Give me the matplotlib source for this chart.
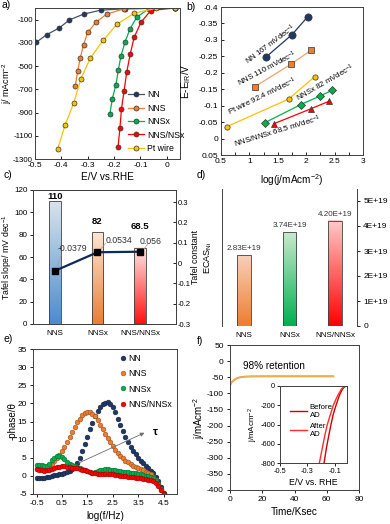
import numpy as np
import matplotlib
matplotlib.use('Agg')
import matplotlib.pyplot as plt
import matplotlib.colors as mcolors
from matplotlib.ticker import FuncFormatter, MultipleLocator, FixedLocator

plt.rcParams['font.family'] = ['Liberation Sans', 'DejaVu Sans']
plt.rcParams['mathtext.default'] = 'regular'
plt.rcParams['axes.unicode_minus'] = False
plt.rcParams['font.size'] = 6
plt.rcParams['axes.linewidth'] = 0.7
plt.rcParams['axes.edgecolor'] = '#404040'

NAVY = '#1F3864'; ORANGE = '#ED7D31'; GREEN = '#00B050'; RED = '#FF0000'; YELLOW = '#FFC000'
TS = 6      # tick label size
LS = 7.2    # axis label size

# ---------------- data ----------------
# a) polarization curves
a_NN_E = [-0.496, -0.456, -0.408, -0.370, -0.316, -0.250, -0.158, 0.03]
a_NN_j = [-297, -230, -172, -103, -53, -18, -7, 0]
a_NNS_E = [-0.347, -0.338, -0.328, -0.316, -0.300, -0.269, -0.228, -0.163, 0.03]
a_NNS_j = [-668, -543, -427, -317, -210, -123, -53, -7, 0]
a_NNSx_E = [-0.216, -0.207, -0.193, -0.184, -0.174, -0.158, -0.140, -0.114, -0.067, 0.03]
a_NNSx_j = [-914, -783, -662, -535, -413, -291, -181, -79, -5, 0]
a_NNSNSx_E = [-0.185, -0.178, -0.172, -0.162, -0.152, -0.139, -0.124, -0.098, -0.061, 0.03]
a_NNSNSx_j = [-1196, -1036, -870, -711, -552, -398, -253, -123, -22, 0]
a_Pt_E = [-0.414, -0.386, -0.353, -0.326, -0.290, -0.241, -0.189, -0.124, -0.042, 0.03]
a_Pt_j = [-1215, -1007, -818, -610, -430, -277, -140, -45, -3, 0]

# b) Tafel plots
b_NN_x = [1.30, 1.75, 2.03]; b_NN_y = [-0.249, -0.316, -0.371]
b_NNS_x = [1.09, 1.73, 2.09]; b_NNS_y = [-0.157, -0.226, -0.269]
b_Pt_x = [0.60, 1.69, 2.15]; b_Pt_y = [-0.036, -0.120, -0.188]
b_NNSx_x = [1.27, 1.90, 2.25, 2.46]; b_NNSx_y = [-0.048, -0.103, -0.130, -0.147]
b_NNSNNSx_x = [1.43, 2.09, 2.41]; b_NNSNNSx_y = [-0.045, -0.091, -0.114]

# c) Tafel slope / constant
c_cats = ['NNS', 'NNSx', 'NNS/NNSx']
c_slope = [110, 82, 68.5]
c_const = [-0.0379, 0.0534, 0.056]
c_slope_lbl = ['110', '82', '68.5']
c_const_lbl = ['-0.0379', '0.0534', '0.056']

# d) ECAS
d_cats = ['NNS', 'NNSx', 'NNS/NNSx']
d_ecas = [2.83e19, 3.74e19, 4.20e19]
d_lbl = ['2.83E+19', '3.74E+19', '4.20E+19']

# e) Bode phase
e_logf = [-0.5, -0.4, -0.3, -0.2, -0.1, 0.0, 0.1, 0.2, 0.3, 0.4, 0.5, 0.6, 0.7, 0.8, 0.9,
          1.0, 1.1, 1.2, 1.3, 1.4, 1.5, 1.6, 1.7, 1.8, 1.9, 2.0, 2.1, 2.2, 2.3, 2.4, 2.5,
          2.6, 2.7, 2.8, 2.9, 3.0, 3.1, 3.2, 3.3, 3.4, 3.5, 3.6, 3.7, 3.8, 3.9, 4.0, 4.1,
          4.2, 4.3, 4.4, 4.5]
e_NN = [-0.5, -0.5, -0.5, -0.5, -0.4, -0.3, 0.0, 0.2, 0.3, 0.4, 0.6, 0.8, 1.0, 1.3, 1.8,
        2.5, 3.5, 5.0, 6.8, 8.8, 10.8, 12.8, 14.7, 16.5, 18.0, 19.1, 19.8, 20.2, 20.3, 19.8, 18.9,
        17.5, 15.8, 14.0, 12.3, 10.7, 9.3, 8.0, 6.9, 5.9, 5.0, 4.2, 3.5, 2.8, 2.1, 1.4, 0.7,
        -0.2, -1.4, -3.0, -4.8]
e_NNS = [2.0, 2.0, 2.0, 2.1, 2.3, 2.7, 3.3, 4.0, 4.8, 5.8, 6.8, 8.0, 9.4, 10.8, 12.2,
         13.5, 14.8, 15.8, 16.7, 17.3, 17.6, 17.5, 17.1, 16.4, 15.3, 14.0, 12.8, 11.6, 10.4, 9.3, 8.2,
         7.2, 6.3, 5.5, 4.8, 4.2, 3.7, 3.2, 2.8, 2.4, 2.1, 1.8, 1.5, 1.2, 0.8, 0.4, -0.2,
         -1.0, -2.2, -3.8, -5.0]
e_NNSx = [3.0, 3.0, 2.9, 2.6, 2.8, 3.3, 4.3, 5.0, 5.4, 5.5, 5.2, 4.6, 3.9, 3.3, 2.9,
          2.6, 2.4, 2.1, 1.9, 1.6, 1.3, 1.0, 0.9, 1.0, 1.3, 1.6, 1.7, 1.8, 1.8, 1.7, 1.6,
          1.5, 1.4, 1.3, 1.2, 1.1, 1.0, 0.9, 0.8, 0.7, 0.5, 0.4, 0.3, 0.1, -0.1, -0.3, -0.7,
          -1.3, -2.2, -3.5, -5.0]
e_NNSNNSx = [1.8, 1.7, 1.5, 1.4, 1.5, 1.7, 2.0, 2.2, 2.4, 2.5, 2.6, 2.6, 2.5, 2.4, 2.3,
             2.2, 2.1, 1.9, 1.7, 1.5, 1.3, 1.1, 0.9, 0.7, 0.6, 0.6, 0.6, 0.6, 0.5, 0.5, 0.4,
             0.3, 0.2, 0.1, 0.0, -0.1, -0.2, -0.3, -0.4, -0.5, -0.6, -0.7, -0.8, -0.9, -1.0, -1.2, -1.5,
             -2.0, -2.8, -4.0, -5.0]

# f) stability
f_t = [0, 0.5, 1, 2, 3, 4, 5, 6, 8, 10, 14, 20, 30, 40, 50, 60, 64]
f_j = [-75, -70, -66, -61, -57, -54, -52, -50.5, -49, -48, -47.5, -47.3, -47.2, -47.2, -47.2, -47.2, -47.2]
fi_after_E = [-0.212, -0.19, -0.17, -0.154, -0.13, -0.11, -0.09, -0.078, -0.06, -0.05, -0.035, -0.02, -0.01]
fi_after_j = [-800, -640, -500, -400, -290, -200, -135, -100, -55, -30, -12, -3, 0]
fi_before_E = [-0.178, -0.16, -0.14, -0.127, -0.11, -0.09, -0.075, -0.066, -0.052, -0.042, -0.03, -0.02, -0.01]
fi_before_j = [-800, -640, -490, -400, -290, -200, -135, -100, -55, -30, -12, -3, 0]

# ---------------- figure ----------------
W, H = 390, 524
fig = plt.figure(figsize=(W / 100, H / 100), dpi=100)


def ax_at(l, t, r, b):
    return fig.add_axes([l / W, 1 - b / H, (r - l) / W, (b - t) / H])


def ylab_at(ax, px, l, r):
    # place y label anchor at figure pixel x = px
    ax.yaxis.set_label_coords((px - l) / (r - l), 0.5)


fmt_g = FuncFormatter(lambda v, p: ('%g' % round(v, 6)))


def darker(c, f=0.6):
    return tuple(np.array(mcolors.to_rgb(c)) * f)


# ---- a)
ax = ax_at(35, 8, 180, 159)
series = [('NN', a_NN_E, a_NN_j, NAVY, '#44546A'),
          ('NNS', a_NNS_E, a_NNS_j, ORANGE, ORANGE),
          ('NNSx', a_NNSx_E, a_NNSx_j, GREEN, GREEN),
          ('NNS/NSx', a_NNSNSx_E, a_NNSNSx_j, RED, RED),
          ('Pt wire', a_Pt_E, a_Pt_j, YELLOW, YELLOW)]
for name, xs, ys, fc, lc in series:
    ax.plot(xs, ys, '-', color=lc, lw=0.9, marker='o', ms=3.6, mfc=fc, mec='#333333', mew=0.5, label=name)
ax.set_xlim(-0.5, 0.05)
ax.set_ylim(-1300, 0)
ax.xaxis.set_major_locator(FixedLocator([-0.5, -0.4, -0.3, -0.2, -0.1, 0]))
ax.yaxis.set_major_locator(FixedLocator(list(range(-1300, 0, 200))))
ax.xaxis.set_major_formatter(fmt_g)
ax.tick_params(direction='in', length=2.5, width=0.6, labelsize=TS, pad=2)
ax.tick_params(axis='y', labelsize=5.7, pad=1.5)
ax.set_xlabel('E/V vs.RHE', fontsize=LS, labelpad=2)
ax.set_ylabel('j/ mAcm$^{-2}$', fontsize=6.5)
ylab_at(ax, 14.5, 35, 180)
ax.legend(loc='lower left', bbox_to_anchor=(0.6, 0.0), frameon=False, fontsize=6.3,
          handlelength=1.8, labelspacing=0.5, handletextpad=0.4, borderaxespad=0.3)

# ---- b)
ax = ax_at(221, 7, 363, 155)
ax.plot(b_NN_x, b_NN_y, '-', color=NAVY, lw=0.9, marker='o', ms=5.2, mfc=NAVY, mec='#333333', mew=0.5)
ax.plot(b_NNS_x, b_NNS_y, '-', color='#F4A070', lw=0.9, marker='s', ms=5.0, mfc=ORANGE, mec='#333333', mew=0.5)
ax.plot(b_Pt_x, b_Pt_y, '-', color=YELLOW, lw=0.9, marker='o', ms=3.8, mfc=YELLOW, mec='#333333', mew=0.5)
ax.plot(b_NNSx_x, b_NNSx_y, '-', color=GREEN, lw=0.9, marker='D', ms=3.8, mfc=GREEN, mec='#333333', mew=0.5)
ax.plot(b_NNSNNSx_x, b_NNSNNSx_y, '-', color=RED, lw=0.9, marker='^', ms=5.0, mfc=RED, mec='#333333', mew=0.5)
ax.set_xlim(0.5, 3)
ax.set_ylim(0.05, -0.4)
ax.xaxis.set_major_locator(MultipleLocator(0.5))
ax.xaxis.set_minor_locator(MultipleLocator(0.25))
ax.yaxis.set_major_locator(MultipleLocator(0.05))
ax.xaxis.set_major_formatter(fmt_g)
ax.yaxis.set_major_formatter(fmt_g)
ax.tick_params(which='both', direction='in', length=2.5, width=0.6, labelsize=TS, pad=2)
ax.set_xlabel('log(j/mAcm$^{-2}$)', fontsize=LS, labelpad=5)
ax.set_ylabel('E-E$_{IR}$/V', fontsize=LS)
ylab_at(ax, 193, 221, 363)
ann = dict(fontsize=5.6, ha='center', va='center', rotation_mode='anchor')
ax.text(1.37, -0.287, 'NN 167 mVdec$^{-1}$', rotation=37, **ann)
ax.text(1.32, -0.214, 'NNS 110 mVdec$^{-1}$', rotation=28, **ann)
ax.text(1.22, -0.128, 'Pt wire 92.4 mVdec$^{-1}$', rotation=26, **ann)
ax.text(2.34, -0.171, 'NNSx 82 mVdec$^{-1}$', rotation=30, **ann)
ax.text(1.49, -0.023, 'NNS/NNSx 68.5 mVdec$^{-1}$', rotation=17, **ann)


def grad_bars(ax, xs, hs, w, tops, bots, edge='#404040'):
    bars = ax.bar(xs, hs, w, facecolor='none', edgecolor=edge, linewidth=0.6, zorder=3)
    for b, t, bt in zip(bars, tops, bots):
        x0, y0 = b.get_x(), b.get_y()
        ww, hh = b.get_width(), b.get_height()
        c1 = np.array(mcolors.to_rgb(t)); c2 = np.array(mcolors.to_rgb(bt))
        f = np.linspace(0, 1, 128)[:, None]
        img = (c1 * (1 - f) + c2 * f)[:, None, :]
        ax.imshow(img, extent=[x0, x0 + ww, y0, y0 + hh], aspect='auto', origin='upper',
                  zorder=2, interpolation='bilinear')
    return bars


# ---- c)
ax = ax_at(33, 190, 176, 324)
xc = np.arange(len(c_cats))
grad_bars(ax, xc, c_slope, 0.27, ['#D9E3EC', '#FCE6D4', '#FFE8E8'], ['#4A8CCF', '#ED7D31', '#FF1010'])
ax.set_xlim(-0.52, 2.85)
ax.set_ylim(0, 120)
ax.set_xticks(xc)
ax.set_xticklabels(c_cats, fontsize=5.8)
ax.yaxis.set_major_locator(MultipleLocator(20))
ax.tick_params(axis='x', length=0, pad=4)
ax.tick_params(axis='y', direction='out', length=2.5, width=0.6, labelsize=5.8, pad=1.5)
ax.set_ylabel('Tafel slope/ mV dec$^{-1}$', fontsize=6.3)
ylab_at(ax, 13.5, 33, 176)
for x, h, lb in zip(xc, [114, 92, 87], c_slope_lbl):
    ax.text(x, h, lb, ha='center', va='center', fontsize=6.8, fontweight='bold')
ax2 = ax.twinx()
ax2.set_ylim(-0.3, 0.36)
ax2.set_xlim(-0.52, 2.85)
ax2.plot(xc, c_const, '-', color='#0F2A5A', lw=1.6, marker='s', ms=5, mfc='black', mec='black', zorder=5)
ax2.yaxis.set_major_locator(FixedLocator([-0.3, -0.2, -0.1, 0, 0.1, 0.2, 0.3]))
ax2.yaxis.set_major_formatter(fmt_g)
ax2.tick_params(axis='y', direction='in', length=2.5, width=0.6, labelsize=5.5, pad=1.5)
ax2.set_ylabel('Tafel constant', fontsize=6.3)
ylab_at(ax2, 191, 33, 176)
lbl_pos = [(0.40, 0.074), (1.50, 0.113), (2.26, 0.108)]
lead = [((0.14, 0.040), (0.05, -0.025)), ((1.20, 0.098), (1.03, 0.06)), ((2.18, 0.093), (2.08, 0.065))]
for (lx, ly), ((x1, y1), (x2, y2)), lb in zip(lbl_pos, lead, c_const_lbl):
    ax2.text(lx, ly, lb, ha='center', va='center', fontsize=6.3, color='#333333')
    ax2.plot([x1, x2], [y1, y2], color='#A0A0A0', lw=0.5, zorder=4)

# ---- d)
ax = ax_at(222, 189, 357, 326)
xd = np.arange(len(d_cats))
grad_bars(ax, xd, d_ecas, 0.3, ['#F9D0B8', '#C8EACB', '#FFCACA'], ['#ED7D31', '#00B050', '#FF0000'])
ax.set_xlim(-0.48, 2.48)
ax.set_ylim(0, 5.48e19)
ax.yaxis.tick_right()
ax.yaxis.set_major_locator(MultipleLocator(1e19))
ax.yaxis.set_major_formatter(FuncFormatter(lambda v, p: '0' if abs(v) < 1 else '%dE+19' % round(v / 1e19)))
ax.set_xticks(xd)
ax.set_xticklabels(d_cats, fontsize=5.8)
ax.tick_params(axis='x', length=0, pad=4)
ax.tick_params(axis='y', direction='out', length=2.5, width=0.6, labelsize=TS, pad=2)
ax.spines['top'].set_visible(False)
ax.spines['bottom'].set_visible(False)
ax.set_ylabel('ECAS$_{Ni}$', fontsize=6.6)
ax.yaxis.set_label_position('left')
ylab_at(ax, 214, 222, 357)
for x, h, lb in zip(xd, d_ecas, d_lbl):
    ax.text(x, h + 0.12e19, lb, ha='center', va='bottom', fontsize=5.8, color='#333333')

# ---- e)
ax = ax_at(33, 349, 177, 494)
e_series = [('NN', e_NN, NAVY), ('NNS', e_NNS, ORANGE), ('NNSx', e_NNSx, GREEN), ('NNS/NNSx', e_NNSNNSx, RED)]
for name, ys, c in e_series:
    ax.plot(e_logf, ys, linestyle='none', marker='o', ms=3.4, mfc=c, mec=darker(c, 0.65), mew=0.4, label=name)
ax.set_xlim(-0.64, 5.03)
ax.set_ylim(-5, 35)
ax.xaxis.set_major_locator(FixedLocator([-0.5, 0.5, 1.5, 2.5, 3.5, 4.5]))
ax.xaxis.set_major_formatter(fmt_g)
ax.yaxis.set_major_locator(MultipleLocator(5))
ax.tick_params(direction='out', length=2.5, width=0.6, labelsize=TS, pad=2)
ax.set_xlabel('log(f/Hz)', fontsize=LS, labelpad=3)
ax.set_ylabel('-phase/θ', fontsize=7)
ylab_at(ax, 17.5, 33, 177)
ax.legend(loc='upper right', bbox_to_anchor=(1.0, 1.0), frameon=False, fontsize=6.3,
          handlelength=0.8, handletextpad=0.2, labelspacing=0.7, borderaxespad=0.2)
ax.annotate('', xy=(3.85, 12.2), xytext=(1.05, 3.2),
            arrowprops=dict(arrowstyle='-|>', color='#6E6E6E', lw=0.6, mutation_scale=6))
ax.text(4.1, 12.0, 'τ', fontsize=8, fontweight='bold', ha='left', va='center')

# ---- f)
ax = ax_at(230, 345, 359, 490)
ax.plot(f_t, f_j, '-', color=ORANGE, lw=1.4, alpha=0.9)
ax.plot(f_t, f_j, '-', color='#E8B84A', lw=0.8)
ax.set_xlim(0, 80)
ax.set_ylim(-400, 50)
ax.xaxis.set_major_locator(MultipleLocator(20))
ax.yaxis.set_major_locator(MultipleLocator(50))
ax.tick_params(direction='out', length=2.5, width=0.6, labelsize=TS, pad=2)
ax.set_xlabel('Time/Ksec', fontsize=LS, labelpad=3)
ax.set_ylabel('j/mAcm$^{-2}$', fontsize=7)
ylab_at(ax, 207, 230, 359)
ax.text(8, -16, '98% retention', fontsize=7.2, ha='left', va='center')

ins = ax_at(280, 386, 347, 463)
ins.plot(fi_before_E, fi_before_j, '-', color='#D00000', lw=1.0, label='Before\nAD')
ins.plot(fi_after_E, fi_after_j, '-', color='#FF2A2A', lw=1.0, label='After\nAD')
ins.set_xlim(-0.5, -0.01)
ins.set_ylim(-800, 0)
ins.xaxis.set_major_locator(FixedLocator([-0.5, -0.3, -0.1]))
ins.xaxis.set_major_formatter(fmt_g)
ins.yaxis.set_major_locator(MultipleLocator(200))
ins.tick_params(direction='out', length=2, width=0.6, labelsize=5.3, pad=1.5)
ins.set_xlabel('E/V vs. RHE', fontsize=6.3, labelpad=2)
ins.set_ylabel('j/mAcm$^{-2}$', fontsize=5.8, labelpad=0)
ins.legend(loc='center left', bbox_to_anchor=(0.05, 0.55), frameon=False, fontsize=5.6,
           handlelength=2.2, handletextpad=0.3, labelspacing=0.5)

# panel letters
for lx, ly, t in [(2, 0, 'a)'), (186, 2, 'b)'), (3, 170, 'c)'), (197, 170, 'd)'), (3, 334, 'e)'), (197, 336, 'f)')]:
    fig.text(lx / W, 1 - ly / H, t, fontsize=7.5, ha='left', va='top')

fig.savefig('out.png', dpi=100)
